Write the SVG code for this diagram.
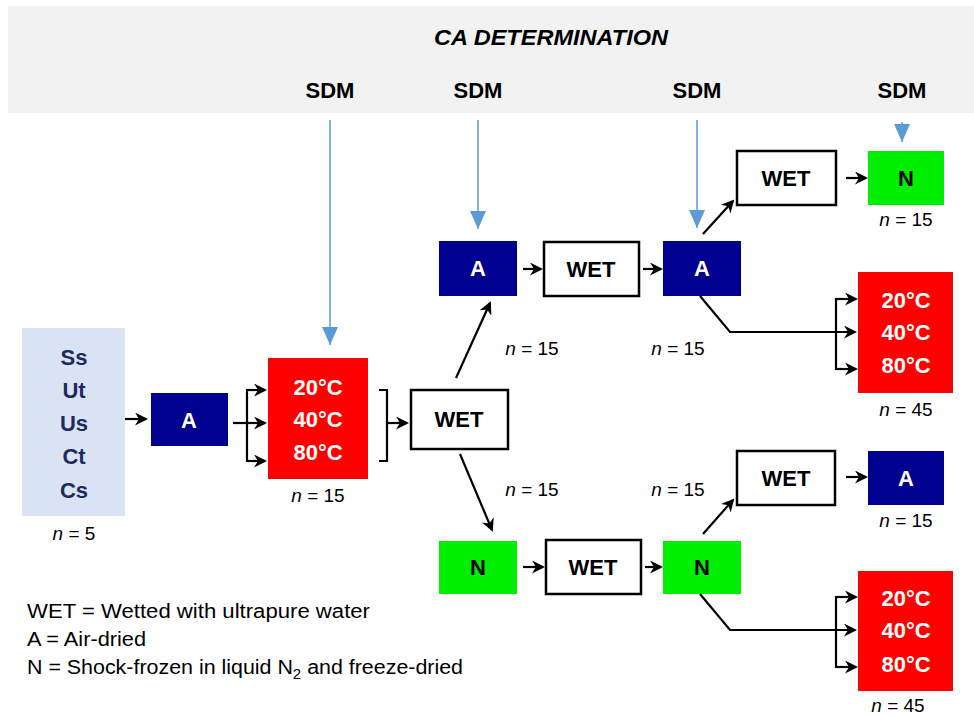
<svg xmlns="http://www.w3.org/2000/svg" width="974" height="716" viewBox="0 0 974 716">
<style>
text{font-family:"Liberation Sans",Arial,sans-serif}
.b{font-weight:bold;text-anchor:middle;font-size:22px}
.w{fill:#ffffff}
.k{fill:#000000}
.t{font-size:22px}
.n{font-size:19px;text-anchor:middle;fill:#000}
.navy{fill:#000090}
.grn{fill:#00ee00}
.red{fill:#ff0000}
.wet{fill:#ffffff;stroke:#000;stroke-width:2.5}
.c{fill:none;stroke:#000;stroke-width:2.2}
.s{fill:none;stroke:#5b9bd5;stroke-width:1.5}
.leg{font-size:20px;fill:#000}
</style>
<defs>
<marker id="ah" markerWidth="13" markerHeight="13" refX="11" refY="6.5" orient="auto" markerUnits="userSpaceOnUse">
<path d="M0,0 L13,6.5 L0,13 L4,6.5 z" fill="#000"/>
</marker>
<marker id="bh" markerWidth="16" markerHeight="18" refX="8" refY="18" orient="0" markerUnits="userSpaceOnUse">
<path d="M0,0 L16,0 L8,18 z" fill="#5b9bd5"/>
</marker>
</defs>
<rect x="8" y="6" width="966" height="107" fill="#f2f2f2"/>
<text x="551" y="45" class="b" style="font-style:italic;font-size:22px" textLength="234" lengthAdjust="spacingAndGlyphs">CA DETERMINATION</text>
<g id="sdm-labels" class="b" style="font-size:22px">
<text x="330" y="98">SDM</text>
<text x="478" y="98">SDM</text>
<text x="697" y="98">SDM</text>
<text x="902" y="98">SDM</text>
</g>
<g id="samples">
<rect x="22" y="328" width="103" height="188" fill="#dae3f3"/>
<g class="b" style="fill:#1f2a5c;font-size:22px">
<text x="74" y="365">Ss</text>
<text x="74" y="398">Ut</text>
<text x="74" y="431">Us</text>
<text x="74" y="464">Ct</text>
<text x="74" y="498">Cs</text>
</g>
<text x="74" y="540" class="n"><tspan font-style="italic">n</tspan> = 5</text>
</g>
<g id="a1"><rect x="151" y="393" width="77" height="53" class="navy"/><text x="189" y="428" class="b w">A</text></g>
<g id="t1"><rect x="268" y="358" width="100" height="121" class="red"/>
<g class="b w t"><text x="318" y="395">20°C</text><text x="318" y="427">40°C</text><text x="318" y="460">80°C</text></g>
<text x="318" y="502" class="n"><tspan font-style="italic">n</tspan> = 15</text></g>
<g id="wet1"><rect x="411" y="390" width="97" height="59" class="wet"/><text x="459" y="427" class="b k t">WET</text></g>
<g id="a2"><rect x="439" y="241" width="78" height="55" class="navy"/><text x="478" y="276" class="b w">A</text></g>
<g id="wet2"><rect x="544" y="242" width="95" height="54" class="wet"/><text x="591" y="277" class="b k t">WET</text></g>
<g id="a3"><rect x="663" y="241" width="78" height="55" class="navy"/><text x="702" y="276" class="b w">A</text></g>
<g id="wet3"><rect x="737" y="151" width="99" height="54" class="wet"/><text x="786" y="186" class="b k t">WET</text></g>
<g id="n1"><rect x="868" y="151" width="76" height="54" class="grn"/><text x="906" y="186" class="b k">N</text>
<text x="906" y="226" class="n"><tspan font-style="italic">n</tspan> = 15</text></g>
<g id="t2"><rect x="858" y="272" width="95" height="121" class="red"/>
<g class="b w t"><text x="906" y="308">20°C</text><text x="906" y="340">40°C</text><text x="906" y="373">80°C</text></g>
<text x="906" y="416" class="n"><tspan font-style="italic">n</tspan> = 45</text></g>
<g id="n2"><rect x="439" y="541" width="78" height="53" class="grn"/><text x="478" y="575" class="b k">N</text></g>
<g id="wet4"><rect x="546" y="540" width="95" height="54" class="wet"/><text x="593" y="575" class="b k t">WET</text></g>
<g id="n3"><rect x="663" y="541" width="78" height="53" class="grn"/><text x="702" y="575" class="b k">N</text></g>
<g id="wet5"><rect x="737" y="451" width="98" height="54" class="wet"/><text x="786" y="486" class="b k t">WET</text></g>
<g id="a4"><rect x="868" y="451" width="76" height="54" class="navy"/><text x="906" y="486" class="b w">A</text>
<text x="906" y="527" class="n"><tspan font-style="italic">n</tspan> = 15</text></g>
<g id="t3"><rect x="858" y="571" width="95" height="120" class="red"/>
<g class="b w t"><text x="906" y="606">20°C</text><text x="906" y="638">40°C</text><text x="906" y="672">80°C</text></g>
<text x="898" y="712" class="n"><tspan font-style="italic">n</tspan> = 45</text></g>
<g id="n-labels">
<text x="532" y="355" class="n"><tspan font-style="italic">n</tspan> = 15</text>
<text x="678" y="355" class="n"><tspan font-style="italic">n</tspan> = 15</text>
<text x="532" y="496" class="n"><tspan font-style="italic">n</tspan> = 15</text>
<text x="678" y="496" class="n"><tspan font-style="italic">n</tspan> = 15</text>
</g>
<g id="connectors">
<g class="s" marker-end="url(#bh)">
<line x1="330" y1="120" x2="330" y2="345"/>
<line x1="478" y1="120" x2="478" y2="229"/>
<line x1="697" y1="120" x2="697" y2="228"/>
<line x1="902" y1="122" x2="902" y2="142"/>
</g>
<g class="c">
<line x1="125" y1="419" x2="146" y2="419" marker-end="url(#ah)"/>
<line x1="233" y1="423" x2="265" y2="423" marker-end="url(#ah)"/>
<polyline points="263,390 247,390 247,461 263,461"/>
<line x1="247" y1="390" x2="265" y2="390" marker-end="url(#ah)"/>
<line x1="247" y1="461" x2="265" y2="461" marker-end="url(#ah)"/>
<polyline points="379,390 387,390 387,461 379,461"/>
<line x1="387" y1="423" x2="407" y2="423" marker-end="url(#ah)"/>
<line x1="456" y1="378" x2="490" y2="303" marker-end="url(#ah)"/>
<line x1="460" y1="454" x2="492" y2="530" marker-end="url(#ah)"/>
<line x1="523" y1="269" x2="541" y2="269" marker-end="url(#ah)"/>
<line x1="643" y1="269" x2="661" y2="269" marker-end="url(#ah)"/>
<line x1="703" y1="234" x2="733" y2="201" marker-end="url(#ah)"/>
<line x1="846" y1="178" x2="866" y2="178" marker-end="url(#ah)"/>
<polyline points="700,296 730,332 855,332" marker-end="url(#ah)"/>
<polyline points="855,299 836,299 836,369 855,369"/>
<line x1="836" y1="299" x2="856" y2="299" marker-end="url(#ah)"/>
<line x1="836" y1="369" x2="856" y2="369" marker-end="url(#ah)"/>
<line x1="523" y1="567" x2="543" y2="567" marker-end="url(#ah)"/>
<line x1="645" y1="567" x2="661" y2="567" marker-end="url(#ah)"/>
<line x1="703" y1="534" x2="733" y2="500" marker-end="url(#ah)"/>
<line x1="846" y1="477" x2="866" y2="477" marker-end="url(#ah)"/>
<polyline points="700,594 730,630 855,630" marker-end="url(#ah)"/>
<polyline points="855,597 836,597 836,667 855,667"/>
<line x1="836" y1="597" x2="856" y2="597" marker-end="url(#ah)"/>
<line x1="836" y1="667" x2="856" y2="667" marker-end="url(#ah)"/>
</g>
</g>
<g id="legend" class="leg">
<text x="27" y="618" textLength="343" lengthAdjust="spacingAndGlyphs">WET = Wetted with ultrapure water</text>
<text x="27" y="646" textLength="119" lengthAdjust="spacingAndGlyphs">A = Air-dried</text>
<text x="27" y="674" textLength="436" lengthAdjust="spacingAndGlyphs">N = Shock-frozen in liquid N<tspan font-size="14" dy="5">2</tspan><tspan dy="-5"> and freeze-dried</tspan></text>
</g>
</svg>
